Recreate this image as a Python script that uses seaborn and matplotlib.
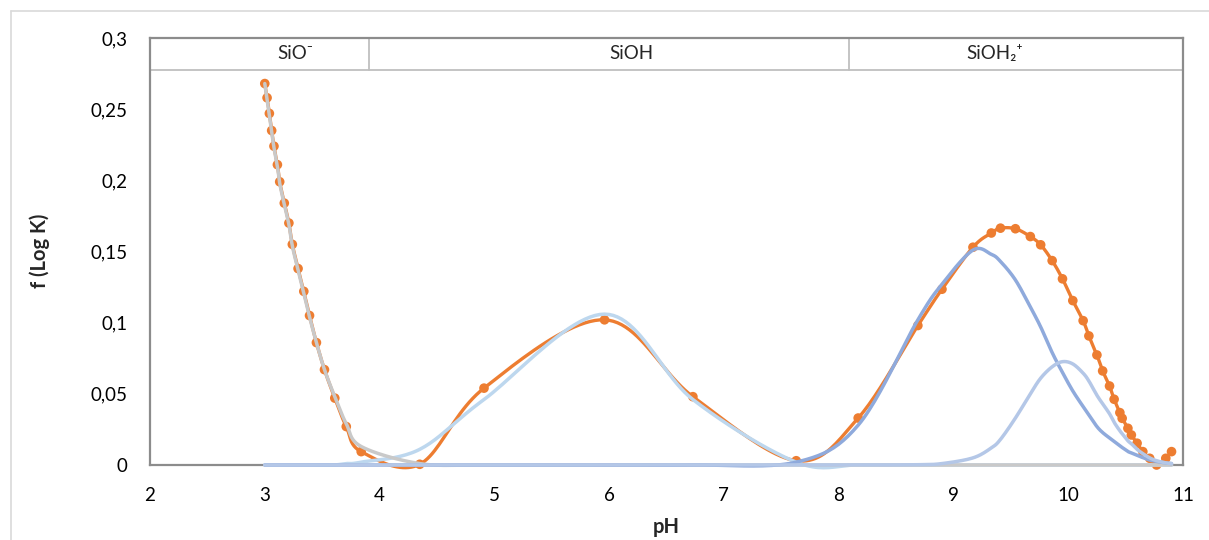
import numpy as np
import pandas as pd
import matplotlib
matplotlib.use("Agg")
import matplotlib.pyplot as plt
import seaborn as sns

# ---------------- data ----------------
ph = [3.00, 3.02, 3.04, 3.06, 3.08, 3.11, 3.13, 3.17, 3.21, 3.24, 3.29, 3.34, 3.39,
      3.45, 3.52, 3.61, 3.71, 3.84, 4.35, 4.91, 5.96, 6.73, 7.63, 8.17, 8.69, 8.90,
      9.17, 9.33, 9.41, 9.54, 9.67, 9.76, 9.86, 9.95, 10.04, 10.13, 10.18, 10.25,
      10.30, 10.36, 10.40, 10.45, 10.47, 10.52, 10.55, 10.60, 10.65, 10.71, 10.77,
      10.85, 10.90]

f_exp = [0.268, 0.258, 0.247, 0.235, 0.224, 0.211, 0.199, 0.184, 0.170, 0.155, 0.138,
         0.122, 0.105, 0.086, 0.067, 0.047, 0.027, 0.0094, 0.0005, 0.054, 0.102, 0.048,
         0.003, 0.033, 0.098, 0.1235, 0.153, 0.163, 0.1664, 0.166, 0.1605, 0.1547,
         0.1436, 0.1308, 0.1155, 0.1014, 0.0907, 0.0773, 0.0661, 0.0555, 0.0462,
         0.0368, 0.0328, 0.0258, 0.0211, 0.0153, 0.0094, 0.0047, 0.0, 0.0047, 0.0094]

f_sio = [0.268, 0.257, 0.246, 0.234, 0.223, 0.210, 0.198, 0.183, 0.169, 0.154, 0.137,
         0.121, 0.104, 0.086, 0.067, 0.048, 0.029, 0.013, 0.001, 0.0, 0.0, 0.0,
         0.0, 0.0, 0.0, 0.0, 0.0, 0.0, 0.0, 0.0, 0.0, 0.0, 0.0, 0.0, 0.0, 0.0,
         0.0, 0.0, 0.0, 0.0, 0.0, 0.0, 0.0, 0.0, 0.0, 0.0, 0.0, 0.0, 0.0, 0.0, 0.0]

f_sioh = [0.0, 0.0, 0.0, 0.0, 0.0, 0.0, 0.0, 0.0, 0.0, 0.0, 0.0, 0.0, 0.0,
          0.0, 0.0, 0.0, 0.001, 0.002, 0.011, 0.046, 0.106, 0.046, 0.002, 0.0,
          0.0, 0.0, 0.0, 0.0, 0.0, 0.0, 0.0, 0.0, 0.0, 0.0, 0.0, 0.0, 0.0, 0.0,
          0.0, 0.0, 0.0, 0.0, 0.0, 0.0, 0.0, 0.0, 0.0, 0.0, 0.0, 0.0, 0.0]

f_sioh2_a = [0.0, 0.0, 0.0, 0.0, 0.0, 0.0, 0.0, 0.0, 0.0, 0.0, 0.0, 0.0, 0.0,
             0.0, 0.0, 0.0, 0.0, 0.0, 0.0, 0.0, 0.0, 0.0, 0.002, 0.028, 0.102, 0.127,
             0.151, 0.148, 0.143, 0.130, 0.111, 0.097, 0.079, 0.065, 0.052, 0.041,
             0.035, 0.027, 0.0228, 0.019, 0.0166, 0.0134, 0.0123, 0.0095, 0.0085,
             0.0068, 0.0052, 0.0035, 0.0025, 0.0015, 0.001]

f_sioh2_b = [0.0, 0.0, 0.0, 0.0, 0.0, 0.0, 0.0, 0.0, 0.0, 0.0, 0.0, 0.0, 0.0,
             0.0, 0.0, 0.0, 0.0, 0.0, 0.0, 0.0, 0.0, 0.0, 0.0, 0.0, 0.0002, 0.001,
             0.005, 0.012, 0.018, 0.033, 0.050, 0.061, 0.069, 0.0726, 0.071, 0.0645,
             0.059, 0.049, 0.043, 0.036, 0.030, 0.024, 0.022, 0.017, 0.015, 0.011,
             0.008, 0.005, 0.003, 0.0015, 0.001]

x_ticks = [2, 3, 4, 5, 6, 7, 8, 9, 10, 11]
y_ticks = [0, 0.05, 0.1, 0.15, 0.2, 0.25, 0.3]
y_tick_labels = ["0", "0,05", "0,1", "0,15", "0,2", "0,25", "0,3"]
band_edges = [3.91, 8.09]
band_labels = ["SiO\u207b", "SiOH", "SiOH\u2082\u207a"]
band_label_x = [3.27, 6.19, 9.36]

# ---------------- style ----------------
sns.set_theme(style="white")
plt.rcParams["font.family"] = ["Lato", "DejaVu Sans"]

C_ORANGE = "#ED7D31"
C_GRAY = "#C9C9C9"
C_SKY = "#BDD7EE"
C_BLUE = "#8FAADC"
C_PERI = "#B4C7E7"
C_AXIS = "#8C8C8C"
C_BAND = "#BFBFBF"


def excel_smooth(xs, ys, sx=114.9, sy=1423.0, n=24):
    """Excel-like smoothed line (Catmull-Rom Bezier) through the data points."""
    P = np.column_stack([np.asarray(xs, float) * sx, np.asarray(ys, float) * sy])
    out = []
    t = np.linspace(0, 1, n)[:, None]
    for i in range(len(P) - 1):
        p0 = P[i - 1] if i > 0 else P[i]
        p1, p2 = P[i], P[i + 1]
        p3 = P[i + 2] if i + 2 < len(P) else P[i + 1]
        c1 = p1 + (p2 - p0) / 6.0
        c2 = p2 - (p3 - p1) / 6.0
        B = ((1 - t) ** 3) * p1 + 3 * ((1 - t) ** 2) * t * c1 + 3 * (1 - t) * t ** 2 * c2 + t ** 3 * p2
        out.append(B if i == 0 else B[1:])
    B = np.vstack(out)
    return B[:, 0] / sx, B[:, 1] / sy


fig = plt.figure(figsize=(12.09, 5.40), dpi=100)
ax = fig.add_axes([150 / 1209, 1 - 465 / 540, (1183 - 150) / 1209, (465 - 38) / 540])

# outer chart border
fig.add_artist(plt.Line2D([11 / 1209, 11 / 1209], [0, 1 - 11 / 540], transform=fig.transFigure,
                          color="#D9D9D9", lw=1.2))
fig.add_artist(plt.Line2D([11 / 1209, 1], [1 - 11 / 540, 1 - 11 / 540], transform=fig.transFigure,
                          color="#D9D9D9", lw=1.2))

# experimental series
sx_, sy_ = excel_smooth(ph, f_exp)
sns.lineplot(x=sx_, y=sy_, sort=False, estimator=None, color=C_ORANGE, lw=2.4, ax=ax, zorder=3)
sns.scatterplot(x=ph, y=f_exp, color=C_ORANGE, s=48, edgecolor="none", ax=ax, zorder=4)

# components
for ys, col in [(f_sioh, C_SKY), (f_sio, C_GRAY), (f_sioh2_a, C_BLUE), (f_sioh2_b, C_PERI)]:
    cx, cy = excel_smooth(ph, ys)
    sns.lineplot(x=cx, y=cy, sort=False, estimator=None, color=col, lw=2.5, ax=ax, zorder=5)

for ln in ax.lines:
    ln.set_clip_on(False)
for c in ax.collections:
    c.set_clip_on(False)

ax.set_xlim(2, 11)
ax.set_ylim(0, 0.3)
ax.set_xticks(x_ticks)
ax.set_xticklabels([str(v) for v in x_ticks])
ax.set_yticks(y_ticks)
ax.set_yticklabels(y_tick_labels)
ax.tick_params(axis="both", length=0, labelsize=13.5, colors="#000000")
ax.tick_params(axis="y", pad=16)
ax.tick_params(axis="x", pad=16)

for side in ["left", "top", "right", "bottom"]:
    ax.spines[side].set_visible(True)
    ax.spines[side].set_color(C_AXIS)
    ax.spines[side].set_linewidth(1.6)
ax.spines["bottom"].set_zorder(1)

# header band
band_y = 0.2777
ax.axhline(band_y, color=C_BAND, lw=1.3, zorder=2)
for e in band_edges:
    ax.plot([e, e], [band_y, 0.3], color=C_BAND, lw=1.3, zorder=2)
for lab, xp in zip(band_labels, band_label_x):
    ax.text(xp, 0.2888, lab, ha="center", va="center", fontsize=13.5,
            family=["Lato", "DejaVu Sans"])

ax.set_xlabel("")
ax.set_ylabel("")
fig.text(666 / 1209, 1 - 527 / 540, "pH", ha="center", va="center", fontsize=14.5, fontweight="bold")
fig.text(40 / 1209, 1 - 251 / 540, "f (Log K)", ha="center", va="center", rotation=90,
         fontsize=14.5, fontweight="bold")

fig.savefig("out.png", dpi=100)
